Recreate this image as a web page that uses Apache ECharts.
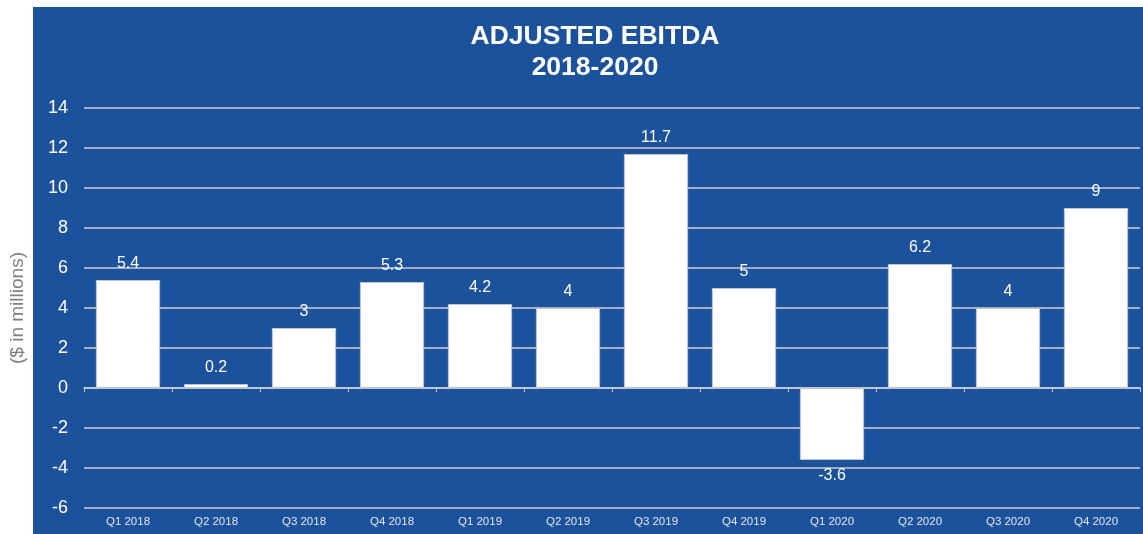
<!DOCTYPE html>
<html>
<head>
<meta charset="utf-8">
<script src="https://cdn.jsdelivr.net/npm/echarts@6/dist/echarts.min.js"></script>
<style>
html,body{margin:0;padding:0;background:#fff;}
#chart{width:1143px;height:534px;}
</style>
</head>
<body>
<div id="chart"></div>
<script>
const categories = ['Q1 2018','Q2 2018','Q3 2018','Q4 2018','Q1 2019','Q2 2019','Q3 2019','Q4 2019','Q1 2020','Q2 2020','Q3 2020','Q4 2020'];
const ebitda = [5.4, 0.2, 3, 5.3, 4.2, 4, 11.7, 5, -3.6, 6.2, 4, 9];
const yTicks = {min: -6, max: 14, interval: 2};
const titleLines = ['ADJUSTED EBITDA', '2018-2020'];
const yAxisName = '($ in millions)';

const BLUE = '#1b529b';
const chart = echarts.init(document.getElementById('chart'));
chart.setOption({
  backgroundColor: '#ffffff',
  animation: false,
  graphic: [{
    type: 'rect', z: -10, silent: true,
    shape: {x: 33, y: 7, width: 1110, height: 527},
    style: {fill: BLUE}
  }],
  title: {
    text: titleLines.join('\n'),
    left: 595, textAlign: 'center', top: 21, padding: 0,
    textStyle: {color: '#ffffff', fontFamily: 'Liberation Sans', fontWeight: 'bold', fontSize: 26.5, lineHeight: 31}
  },
  grid: {left: 83, right: 3, top: 108, bottom: 26, containLabel: false},
  xAxis: [{
    type: 'category', data: categories, position: 'bottom',
    axisLine: {show: false, onZero: false}, axisTick: {show: false},
    axisLabel: {color: '#e3e8f0', fontSize: 11.5, fontFamily: 'Liberation Sans', margin: 8},
    splitLine: {show: false}
  }, {
    type: 'category', data: categories, position: 'top',
    axisLine: {show: true, onZero: true, lineStyle: {color: '#c9ccd3', width: 1.5}},
    axisTick: {show: true, inside: true, length: 4, lineStyle: {color: '#c9ccd3', width: 1}},
    axisLabel: {show: false}, splitLine: {show: false}
  }],
  yAxis: {
    type: 'value', min: yTicks.min, max: yTicks.max, interval: yTicks.interval,
    axisLine: {show: false}, axisTick: {show: false},
    axisLabel: {color: '#ffffff', fontSize: 18, fontFamily: 'Liberation Sans', margin: 16},
    splitLine: {show: true, lineStyle: {color: '#c9ccd3', width: 1.5}},
    name: yAxisName, nameLocation: 'middle', nameGap: 57, nameRotate: 90,
    nameTextStyle: {color: '#7f7f7f', fontSize: 19, fontFamily: 'Liberation Sans'}
  },
  series: [{
    type: 'bar', xAxisIndex: 0,
    data: ebitda.map(v => ({value: v, label: {position: v < 0 ? 'bottom' : 'top'}})),
    barCategoryGap: '27%',
    itemStyle: {color: '#ffffff', borderColor: '#c0c4cc', borderWidth: 1},
    label: {show: true, color: '#ffffff', fontSize: 16, fontFamily: 'Liberation Sans', distance: 8}
  }]
});
</script>
</body>
</html>
